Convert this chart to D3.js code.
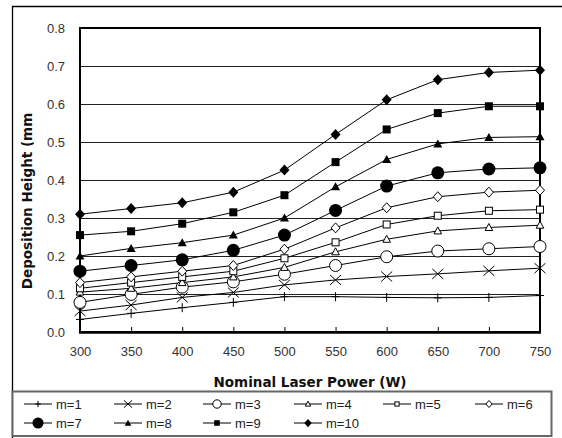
<!DOCTYPE html>
<html><head><meta charset="utf-8">
<script src="https://cdn.jsdelivr.net/npm/d3@7/dist/d3.min.js"></script>
<style>body{margin:0;background:#fff}svg{display:block}</style>
</head><body><svg id="c" width="562" height="438"></svg>
<script>
const powers = [300,350,400,450,500,550,600,650,700,750];
const seriesNames = ["m=1","m=2","m=3","m=4","m=5","m=6","m=7","m=8","m=9","m=10"];
const m1  = [0.033,0.049,0.064,0.078,0.093,0.093,0.091,0.090,0.091,0.096];
const m2  = [0.055,0.071,0.091,0.104,0.124,0.137,0.146,0.153,0.161,0.168];
const m3  = [0.078,0.099,0.118,0.132,0.152,0.175,0.198,0.213,0.219,0.225];
const m4  = [0.105,0.115,0.130,0.145,0.170,0.211,0.244,0.266,0.275,0.281];
const m5  = [0.115,0.130,0.145,0.160,0.194,0.236,0.283,0.306,0.319,0.322];
const m6  = [0.130,0.145,0.160,0.175,0.218,0.274,0.327,0.356,0.368,0.373];
const m7  = [0.160,0.175,0.190,0.215,0.255,0.320,0.384,0.419,0.429,0.432];
const m8  = [0.200,0.220,0.235,0.255,0.300,0.382,0.454,0.495,0.512,0.514];
const m9  = [0.255,0.265,0.285,0.315,0.360,0.447,0.533,0.576,0.594,0.594];
const m10 = [0.310,0.325,0.340,0.368,0.426,0.520,0.611,0.664,0.683,0.689];
const yTicks = [0,0.1,0.2,0.3,0.4,0.5,0.6,0.7,0.8];
const xTicks = powers;
const allSeries = [m1,m2,m3,m4,m5,m6,m7,m8,m9,m10];

const svg = d3.select("#c");
const L=80, R=540, T=28, B=332;
const x = d3.scaleLinear().domain([300,750]).range([L,R]);
const y = d3.scaleLinear().domain([0,0.8]).range([B,T]);
const font = "'Liberation Sans', Arial, sans-serif";
const tfont = "'DejaVu Sans', sans-serif";

// outer frame
svg.append("path").attr("d","M12.5,438 L12.5,6.5 L562,6.5").attr("fill","none").attr("stroke","#000").attr("stroke-width",1.3);

// gridlines
svg.append("g").selectAll("line").data(yTicks.slice(1,-1)).join("line")
  .attr("x1",L).attr("x2",R).attr("y1",d=>Math.round(y(d))+0.5).attr("y2",d=>Math.round(y(d))+0.5)
  .attr("stroke","#222").attr("stroke-width",1);

// axes
const yAxis = d3.axisLeft(y).tickValues(yTicks).tickFormat(d3.format(".1f")).tickSize(0).tickPadding(15);
const gy = svg.append("g").attr("transform",`translate(${L},0)`).call(yAxis);
gy.select(".domain").remove();
gy.selectAll("text").attr("font-family",font).attr("font-size",13).attr("fill","#333");

const xAxis = d3.axisBottom(x).tickValues(xTicks).tickSize(-5).tickPadding(15);
const gx = svg.append("g").attr("transform",`translate(0,${B})`).call(xAxis);
gx.select(".domain").remove();
gx.selectAll("line").attr("stroke","#000");
gx.selectAll("text").attr("font-family",font).attr("font-size",13).attr("fill","#333");

// plot frame
svg.append("rect").attr("x",L).attr("y",T).attr("width",R-L).attr("height",B-T)
  .attr("fill","none").attr("stroke","#000").attr("stroke-width",2);
svg.append("line").attr("x1",L-1).attr("x2",R+1).attr("y1",B+0.5).attr("y2",B+0.5).attr("stroke","#000").attr("stroke-width",2.5);

// markers
function marker(g, k, s){
  s = s||1;
  const sw = 1;
  switch(k){
    case 0: g.append("path").attr("d",`M${-4*s},0H${4*s}M0,${-4.5*s}V${4.5*s}`).attr("stroke","#000").attr("stroke-width",sw).attr("fill","none"); break;
    case 1: g.append("path").attr("d",`M${-5.5*s},${-5*s}L${5.5*s},${5*s}M${-5.5*s},${5*s}L${5.5*s},${-5*s}`).attr("stroke","#000").attr("stroke-width",sw).attr("fill","none"); break;
    case 2: g.append("circle").attr("r",6*s).attr("fill","#fff").attr("stroke","#000").attr("stroke-width",sw); break;
    case 3: g.append("path").attr("d",`M0,${-4*s}L${3.8*s},${3*s}L${-3.8*s},${3*s}Z`).attr("fill","#fff").attr("stroke","#000").attr("stroke-width",sw); break;
    case 4: g.append("rect").attr("x",-3.5*s).attr("y",-3.5*s).attr("width",7*s).attr("height",7*s).attr("fill","#fff").attr("stroke","#000").attr("stroke-width",sw); break;
    case 5: g.append("path").attr("d",`M0,${-5*s}L${4.5*s},0L0,${5*s}L${-4.5*s},0Z`).attr("fill","#fff").attr("stroke","#000").attr("stroke-width",sw); break;
    case 6: g.append("circle").attr("r",6.5*s).attr("fill","#000"); break;
    case 7: g.append("path").attr("d",`M0,${-4.5*s}L${4.5*s},${3.5*s}L${-4.5*s},${3.5*s}Z`).attr("fill","#000"); break;
    case 8: g.append("rect").attr("x",-4*s).attr("y",-4*s).attr("width",8*s).attr("height",8*s).attr("fill","#000"); break;
    case 9: g.append("path").attr("d",`M0,${-5.5*s}L${5*s},0L0,${5.5*s}L${-5*s},0Z`).attr("fill","#000"); break;
  }
}

const line = d3.line().x((d,i)=>x(powers[i])).y(d=>y(d));
const gl = svg.append("g");
allSeries.forEach(vals=>{
  gl.append("path").attr("d",line(vals)).attr("fill","none").attr("stroke","#000").attr("stroke-width",1);
});
const gm = svg.append("g");
allSeries.forEach((vals,k)=>{
  vals.forEach((v,i)=>{
    const g = gm.append("g").attr("transform",`translate(${x(powers[i])},${y(v)})`);
    marker(g,k,1);
  });
});

// axis titles
svg.append("text").attr("x",310).attr("y",387).attr("text-anchor","middle")
  .attr("font-family",tfont).attr("font-size",13.5).attr("font-weight","bold").attr("fill","#111")
  .text("Nominal Laser Power (W)");
svg.append("text").attr("transform","translate(32,201) rotate(-90)").attr("text-anchor","middle")
  .attr("font-family",tfont).attr("font-size",13.5).attr("font-weight","bold").attr("fill","#111")
  .text("Deposition Height (mm");

// legend
svg.append("rect").attr("x",12.5).attr("y",391.5).attr("width",539).attr("height",44.5)
  .attr("fill","#fff").attr("stroke","#666").attr("stroke-width",2);
const colX = [24,114,203,294,383,475];
const rowY = [404,423];
seriesNames.forEach((name,k)=>{
  const cx = colX[k%6], cy = rowY[Math.floor(k/6)];
  const g = svg.append("g").attr("transform",`translate(${cx},${cy})`);
  g.append("line").attr("x1",0).attr("x2",28).attr("y1",0).attr("y2",0).attr("stroke","#000").attr("stroke-width",1);
  const mg = g.append("g").attr("transform","translate(14,0)");
  marker(mg,k,[0.7,0.75,0.7,0.7,0.6,0.7,0.85,0.75,0.7,0.75][k]);
  g.append("text").attr("x",32).attr("y",5).attr("font-family",font).attr("font-size",13).attr("fill","#222").text(name);
});
</script></body></html>
